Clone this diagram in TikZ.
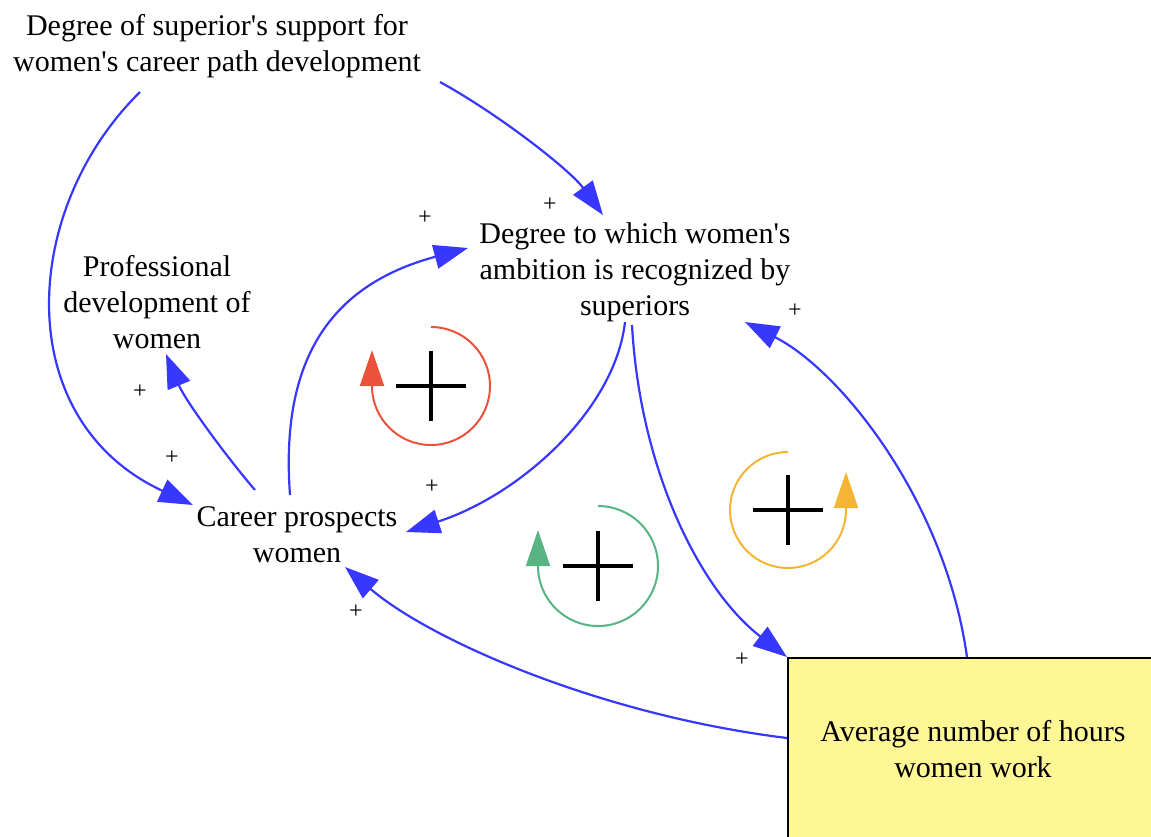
\documentclass[tikz,border=0pt]{standalone}
\usepackage{fontspec}
\setmainfont{Liberation Serif}
\usetikzlibrary{arrows.meta}
\definecolor{linkblue}{RGB}{55,55,255}
\definecolor{loopred}{RGB}{235,82,60}
\definecolor{loopgreen}{RGB}{88,180,130}
\definecolor{loopgold}{RGB}{245,180,52}
\definecolor{boxyellow}{RGB}{255,246,150}
\begin{document}
\begin{tikzpicture}[x=0.5pt,y=-0.5pt,
    var/.style={align=center,inner sep=0pt,font=\fontsize{15}{18}\selectfont},
    link/.style={linkblue,line width=1.1pt,-{Triangle[length=17pt,width=12pt]}},
    sgn/.style={inner sep=0pt,font=\fontsize{12}{14}\selectfont},
    loopline/.style={line width=1pt,-{Triangle[length=18pt,width=12pt]}},
    bigplus/.style={line width=2pt}]
    \useasboundingbox (0,0) rectangle (1151,836);
    \clip (0,0) rectangle (1151,836);

    \node[var] (sup) at (217,46) {Degree of superior\textquotesingle s support for\\women\textquotesingle s career path development};
    \node[var] (deg) at (635,272) {Degree to which women\textquotesingle s\\ambition is recognized by\\superiors};
    \node[var] (prof) at (157,302) {Professional\\development of\\women};
    \node[var] (cp) at (297,535) {Career prospects\\women};
    \node[var,draw,line width=1pt,fill=boxyellow,minimum width=185pt,minimum height=91pt] (avg) at (973,749) {Average number of hours\\women work};

    \draw[link]([shift={(-77,46)}]sup.center) .. controls (20,210) and (10,420) .. ([shift={(-104,-30)}]cp.center);
    \draw[link]([shift={(223,36)}]sup.center) .. controls (500,115) and (570,170) .. ([shift={(-32,-57)}]deg.center);
    \draw[link]([shift={(-7,-40)}]cp.center) .. controls (280,360) and (330,285) .. ([shift={(-167,-24)}]deg.center);
    \draw[link]([shift={(-42,-45)}]cp.center) .. controls (225,455) and (185,400) .. ([shift={(9,52)}]prof.center);
    \draw[link]([shift={(-10,50)}]deg.center) .. controls (615,410) and (520,495) .. ([shift={(109,-3)}]cp.center);
    \draw[link]([shift={(-3,53)}]deg.center) .. controls (640,470) and (700,590) .. (avg.north west);
    \draw[link]([shift={(-6,0)}]avg.north) .. controls (945,500) and (840,370) .. ([shift={(110,50)}]deg.center);
    \draw[link]([shift={(0,-11)}]avg.west) .. controls (600,715) and (430,640) .. ([shift={(48,32)}]cp.center);

    \node[sgn] (s1) at (172,458) {+};
    \node[sgn] (s2) at (140,392) {+};
    \node[sgn] (s3) at (425,218) {+};
    \node[sgn] (s4) at (550,205) {+};
    \node[sgn] (s5) at (432,487) {+};
    \node[sgn] (s6) at (795,311) {+};
    \node[sgn] (s7) at (742,660) {+};
    \node[sgn] (s8) at (356,612) {+};

    \coordinate (redloop) at (431,386);
    \coordinate (greenloop) at (598,566);
    \coordinate (goldloop) at (788,510);
    \draw[loopline,loopred]([shift={(90:29.5pt)}]redloop) arc[start angle=90,end angle=-180,radius=29.5pt] -- ++(0pt,18pt);
    \draw[loopline,loopgreen]([shift={(90:30pt)}]greenloop) arc[start angle=90,end angle=-180,radius=30pt] -- ++(0pt,18pt);
    \draw[loopline,loopgold]([shift={(90:29pt)}]goldloop) arc[start angle=90,end angle=360,radius=29pt] -- ++(0pt,19pt);
    \foreach \c in {redloop,greenloop,goldloop}
        \draw[bigplus]([shift={(-35,0)}]\c) -- ([shift={(35,0)}]\c) ([shift={(0,-35)}]\c) -- ([shift={(0,35)}]\c);
\end{tikzpicture}
\end{document}
